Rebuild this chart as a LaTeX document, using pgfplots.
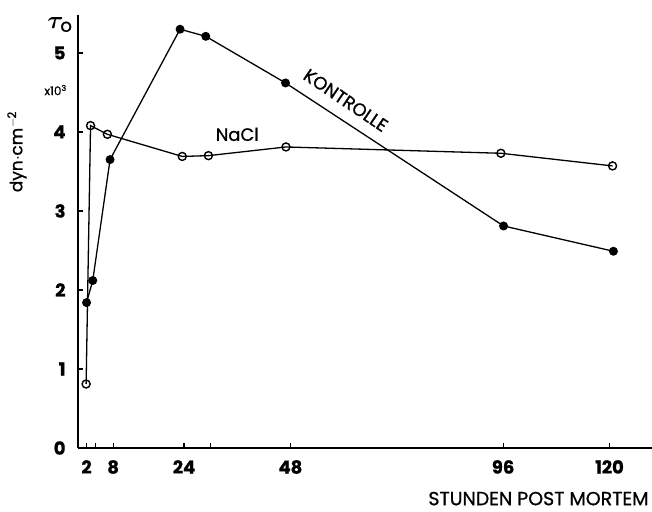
\documentclass[border=0pt]{standalone}
\usepackage{fontspec}
\setmainfont{Poppins}[FakeBold=0.9]
\usepackage{amsmath,amssymb,bm}
\usepackage{pgfplots}
\pgfplotsset{compat=1.18}

% Stunden p.m. -> Fliessgrenze (x10^3 dyn/cm^2)
\pgfplotstableread{
h     tau
2     1.84
3.4   2.12
7.3   3.65
23.1  5.30
28.9  5.21
46.9  4.62
96.1  2.81
120.9 2.49
}\kontrolle
\pgfplotstableread{
h     tau
1.9   0.81
2.9   4.08
6.7   3.97
23.6  3.69
29.5  3.70
47.0  3.81
95.5  3.73
120.7 3.57
}\nacl

\begin{document}
\begin{tikzpicture}
\path[use as bounding box] (-77.7bp,-64bp) rectangle (574.3bp,448bp);
\begin{axis}[
  scale only axis,
  width=574.3bp, height=433bp,
  xmin=0, xmax=129.6, ymin=0, ymax=5.48,
  axis x line*=bottom, axis y line*=left,
  axis line style={line width=2bp, -},
  xtick={2,4,8,24,30,48,96,120},
  xticklabels={2,,8,24,,48,96,120},
  ytick={0,1,2,3,4,5},
  tick align=inside,
  major tick length=5bp,
  tick style={line width=1.2bp, black},
  /pgf/number format/assume math mode=true,
  tick label style={font=\bfseries\fontsize{18}{18}\selectfont, inner sep=0pt},
  xticklabel shift=12bp,
  yticklabel shift=12bp,
  clip=false,
]
\addplot[black, line width=1.3bp, mark=*, mark size=3.8bp,
  mark options={fill=black}] table[x=h, y=tau] {\kontrolle};
\addplot[black, line width=1.3bp, mark=o, mark size=4bp,
  mark options={fill=white, line width=1.4bp}] table[x=h, y=tau] {\nacl};

\node[font=\fontsize{26}{26}\selectfont] at (axis cs:-4.0,5.36) {$\bm{\tau}_{\mathrm{o}}$};
\node[font=\fontsize{12}{12}\selectfont] at (axis cs:-5.0,4.53) {x10\textsuperscript{3}};
\node[rotate=90, font=\fontsize{17}{17}\selectfont] at (axis cs:-13.7,3.75) {dyn$\cdot$cm\textsuperscript{$-$2}};
\node[font=\fontsize{18}{18}\selectfont] at (axis cs:36.0,3.97) {NaCl};
\node[rotate=-34, font=\fontsize{18}{18}\selectfont] at (axis cs:60.5,4.40) {KONTROLLE};
\node[anchor=east, font=\fontsize{19}{19}\selectfont] at (axis cs:129.6,-0.64) {STUNDEN POST MORTEM};
\end{axis}
\end{tikzpicture}
\end{document}
